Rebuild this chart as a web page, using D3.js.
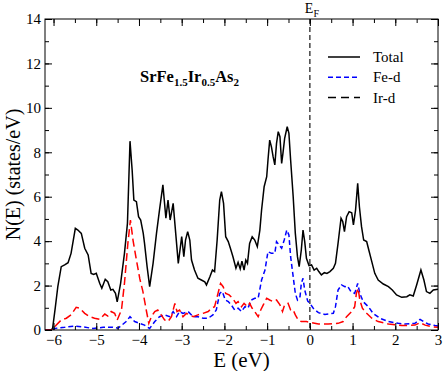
<!DOCTYPE html>
<html>
<head>
<meta charset="utf-8">
<script src="https://cdn.jsdelivr.net/npm/d3@7"></script>
<style>
body { margin: 0; background: #fff; }
text { font-family: "Liberation Serif", "Times New Roman", serif; }
</style>
</head>
<body>
<div id="chart"></div>
<script>
// total DOS
var totalE = [-6.2,-6.05,-6.02,-5.96,-5.90,-5.82,-5.74,-5.66,-5.59,-5.49,-5.43,-5.35,-5.27,-5.19,-5.12,-5.06,-5.0,-4.92,-4.87,-4.79,-4.73,-4.66,-4.61,-4.55,-4.51,-4.43,-4.34,-4.27,-4.21,-4.16,-4.12,-4.06,-4.01,-3.96,-3.90,-3.87,-3.81,-3.75,-3.67,-3.59,-3.52,-3.44,-3.37,-3.32,-3.27,-3.20,-3.14,-3.08,-3.00,-2.95,-2.91,-2.86,-2.81,-2.77,-2.70,-2.62,-2.54,-2.46,-2.42,-2.34,-2.28,-2.23,-2.17,-2.11,-2.07,-2.02,-1.97,-1.91,-1.86,-1.80,-1.73,-1.68,-1.63,-1.59,-1.54,-1.50,-1.46,-1.41,-1.35,-1.29,-1.23,-1.17,-1.13,-1.07,-1.01,-0.98,-0.94,-0.90,-0.86,-0.82,-0.78,-0.74,-0.70,-0.66,-0.63,-0.59,-0.53,-0.49,-0.45,-0.39,-0.34,-0.29,-0.25,-0.20,-0.16,-0.12,-0.08,-0.02,0.04,0.10,0.16,0.21,0.27,0.34,0.40,0.47,0.55,0.60,0.66,0.73,0.77,0.81,0.86,0.92,0.98,1.02,1.07,1.12,1.16,1.21,1.26,1.33,1.38,1.45,1.52,1.60,1.72,1.84,1.93,2.03,2.15,2.27,2.34,2.42,2.50,2.60,2.67,2.73,2.81,2.89,3.0];
var totalN = [0,0,0.1,1.0,1.95,2.85,2.93,3.03,3.45,4.58,4.5,4.35,3.68,3.38,2.55,2.5,2.55,2.1,1.88,2.28,2.17,1.8,1.83,1.65,1.27,2.1,3.45,4.8,8.5,7.2,5.85,5.78,5.1,4.95,4.35,3.9,2.85,1.95,3.0,4.35,5.4,6.53,5.03,5.85,4.95,5.7,4.35,3.0,4.2,3.3,4.05,4.43,4.05,3.15,2.7,2.33,2.25,2.17,2.03,2.4,2.7,2.63,4.05,5.85,6.23,5.7,4.2,3.98,3.68,3.3,2.78,3.05,2.75,3.1,2.7,3.15,3.0,3.9,4.2,4.05,3.75,4.5,5.4,6.45,6.9,7.65,8.55,8.25,7.8,7.43,8.4,8.93,8.7,7.5,7.95,8.63,9.15,8.85,7.65,6.0,4.35,3.3,2.85,3.6,4.5,3.98,3.23,2.9,2.93,2.7,2.78,2.63,2.48,2.58,2.55,2.63,2.78,3.0,3.9,5.03,4.88,4.43,5.1,5.33,5.28,4.73,5.4,6.6,5.55,4.65,4.05,3.98,3.6,3.08,2.55,2.25,2.07,1.95,1.8,1.58,1.47,1.5,1.58,1.53,2.03,2.7,2.25,1.73,1.65,1.8,1.83];

// Fe-d
var feE = [-6.2,-6.02,-5.98,-5.74,-5.51,-5.35,-5.08,-4.84,-4.61,-4.49,-4.30,-4.21,-4.10,-3.96,-3.87,-3.75,-3.63,-3.52,-3.40,-3.28,-3.20,-3.12,-3.05,-2.97,-2.85,-2.73,-2.62,-2.50,-2.38,-2.27,-2.19,-2.11,-2.05,-1.98,-1.91,-1.84,-1.76,-1.68,-1.60,-1.52,-1.45,-1.37,-1.29,-1.21,-1.13,-1.05,-0.98,-0.90,-0.82,-0.78,-0.72,-0.66,-0.60,-0.54,-0.49,-0.45,-0.39,-0.34,-0.29,-0.23,-0.20,-0.16,-0.12,-0.05,0.0,0.08,0.20,0.35,0.55,0.60,0.66,0.74,0.82,0.88,0.96,1.05,1.12,1.17,1.25,1.37,1.48,1.64,1.84,2.07,2.23,2.46,2.58,2.66,2.77,2.93,3.0];
var feN = [0,0,0.07,0.12,0.18,0.15,0.07,0.12,0.12,0.08,0.38,0.6,0.38,0.28,0.22,0.07,0.38,0.6,0.68,0.6,0.83,0.6,0.83,0.75,0.83,0.6,0.6,0.53,0.53,0.68,0.9,1.65,1.73,1.35,1.28,1.13,0.9,0.98,0.83,1.05,0.98,1.35,1.43,1.43,2.25,2.7,3.53,3.45,3.45,3.98,3.83,3.68,4.05,4.5,4.28,3.3,2.4,1.65,1.35,1.5,2.1,2.33,1.8,1.3,1.2,0.98,0.78,0.7,0.75,1.05,1.8,2.03,1.95,1.98,1.73,1.65,2.1,1.65,1.27,1.05,0.75,0.53,0.38,0.3,0.27,0.3,0.48,0.38,0.27,0.2,0.18];

// Ir-d
var irE = [-6.2,-6.02,-5.94,-5.82,-5.70,-5.59,-5.47,-5.39,-5.27,-5.16,-5.04,-4.92,-4.80,-4.73,-4.65,-4.57,-4.51,-4.41,-4.34,-4.26,-4.20,-4.14,-4.06,-3.98,-3.91,-3.83,-3.77,-3.71,-3.63,-3.56,-3.48,-3.40,-3.32,-3.24,-3.16,-3.11,-3.05,-2.97,-2.89,-2.81,-2.73,-2.62,-2.50,-2.38,-2.30,-2.23,-2.15,-2.09,-2.03,-1.97,-1.89,-1.81,-1.73,-1.68,-1.60,-1.54,-1.46,-1.41,-1.35,-1.29,-1.21,-1.15,-1.09,-1.01,-0.94,-0.86,-0.78,-0.70,-0.64,-0.59,-0.51,-0.45,-0.39,-0.34,-0.27,-0.20,-0.08,0.0,0.2,0.43,0.66,0.78,0.86,0.98,1.05,1.09,1.13,1.17,1.23,1.33,1.45,1.60,1.84,2.15,2.46,2.58,2.70,2.85,3.0];
var irN = [0,0,0.22,0.45,0.53,0.68,1.02,0.98,0.75,0.6,0.53,0.48,0.72,0.63,0.83,0.75,0.45,0.9,2.1,3.9,4.95,4.05,3.15,2.3,1.75,0.9,0.3,0.6,0.83,0.9,0.68,0.45,0.38,0.6,1.2,0.83,0.9,0.6,0.75,0.68,0.6,0.68,0.75,0.83,0.98,1.05,1.65,2.1,1.95,1.65,1.58,1.43,1.2,1.28,1.05,1.2,1.05,1.2,0.98,0.83,0.6,0.9,1.13,1.43,1.35,1.28,1.35,1.13,0.83,1.13,1.2,0.9,0.9,0.68,0.45,0.38,0.38,0.35,0.27,0.27,0.3,0.38,0.6,0.83,1.05,1.65,1.88,1.35,0.98,0.75,0.53,0.38,0.27,0.2,0.22,0.33,0.22,0.15,0.12];

var xTicks = [-6,-5,-4,-3,-2,-1,0,1,2,3];
var yTicks = [0,2,4,6,8,10,12,14];
var legendLabels = ["Total","Fe-d","Ir-d"];

var W = 443, H = 371;
var m = {left: 45, right: 5, top: 19, bottom: 41};
var pw = W - m.left - m.right, ph = H - m.top - m.bottom;

var svg = d3.select("#chart").append("svg").attr("width", W).attr("height", H);

var x = d3.scaleLinear().domain([-6.2, 3]).range([m.left, m.left + pw]);
var y = d3.scaleLinear().domain([0, 14]).range([m.top + ph, m.top]);

svg.append("clipPath").attr("id", "clip").append("rect")
    .attr("x", m.left).attr("y", m.top).attr("width", pw).attr("height", ph);

var line = d3.line().x(function(d){ return x(d[0]); }).y(function(d){ return y(d[1]); });
function pairs(a, b){ return a.map(function(v, i){ return [v, b[i]]; }); }

var g = svg.append("g").attr("clip-path", "url(#clip)");

// Fermi level
g.append("line")
    .attr("x1", x(0)).attr("x2", x(0)).attr("y1", m.top).attr("y2", m.top + ph)
    .attr("stroke", "#444").attr("stroke-width", 1.5).attr("stroke-dasharray", "5,3");

g.append("path").attr("d", line(pairs(totalE, totalN)))
    .attr("fill", "none").attr("stroke", "#000").attr("stroke-width", 1.5);
g.append("path").attr("d", line(pairs(feE, feN)))
    .attr("fill", "none").attr("stroke", "#0000ff").attr("stroke-width", 1.5).attr("stroke-dasharray", "5,3");
g.append("path").attr("d", line(pairs(irE, irN)))
    .attr("fill", "none").attr("stroke", "#ff0000").attr("stroke-width", 1.5).attr("stroke-dasharray", "8,4");

// axes: ticks inside, on all four sides
var minorX = d3.range(-6, 3.01, 0.5), minorY = d3.range(0, 14.01, 1);
svg.append("g").attr("transform", "translate(0," + (m.top + ph) + ")")
    .call(d3.axisBottom(x).tickValues(minorX).tickSize(-4).tickFormat(""));
svg.append("g").attr("transform", "translate(0," + (m.top + ph) + ")")
    .call(d3.axisBottom(x).tickValues(xTicks).tickSize(-7).tickPadding(4).tickFormat(d3.format("d")));
svg.append("g").attr("transform", "translate(0," + m.top + ")")
    .call(d3.axisTop(x).tickValues(minorX).tickSize(-4).tickFormat(""));
svg.append("g").attr("transform", "translate(0," + m.top + ")")
    .call(d3.axisTop(x).tickValues(xTicks).tickSize(-7).tickFormat(""));
svg.append("g").attr("transform", "translate(" + m.left + ",0)")
    .call(d3.axisLeft(y).tickValues(minorY).tickSize(-4).tickFormat(""));
svg.append("g").attr("transform", "translate(" + m.left + ",0)")
    .call(d3.axisLeft(y).tickValues(yTicks).tickSize(-7).tickPadding(4).tickFormat(d3.format("d")));
svg.append("g").attr("transform", "translate(" + (m.left + pw) + ",0)")
    .call(d3.axisRight(y).tickValues(minorY).tickSize(-4).tickFormat(""));
svg.append("g").attr("transform", "translate(" + (m.left + pw) + ",0)")
    .call(d3.axisRight(y).tickValues(yTicks).tickSize(-7).tickFormat(""));

svg.selectAll(".domain").remove();
svg.selectAll(".tick line").attr("stroke", "#000");
svg.selectAll(".tick text").attr("font-family", "Liberation Serif").attr("font-size", 15).attr("fill", "#000");

svg.append("rect").attr("x", m.left).attr("y", m.top).attr("width", pw).attr("height", ph)
    .attr("fill", "none").attr("stroke", "#000").attr("stroke-width", 1);

// axis titles
svg.append("text").attr("x", x(-1.6)).attr("y", 367).attr("text-anchor", "middle")
    .attr("font-size", 21).text("E (eV)");
svg.append("text").attr("transform", "translate(20," + (m.top + ph / 2) + ") rotate(-90)")
    .attr("text-anchor", "middle").attr("font-size", 20).text("N(E) (states/eV)");

// E_F label
var ef = svg.append("text").attr("x", x(0) - 5).attr("y", 13).attr("font-size", 14);
ef.append("tspan").text("E");
ef.append("tspan").attr("dy", 4).attr("font-size", 10).text("F");

// compound label
var t = svg.append("text").attr("x", 140).attr("y", 82).attr("font-size", 16.5).attr("font-weight", "bold");
t.append("tspan").text("SrFe");
t.append("tspan").attr("dy", 4).attr("font-size", 11).text("1.5");
t.append("tspan").attr("dy", -4).text("Ir");
t.append("tspan").attr("dy", 4).attr("font-size", 11).text("0.5");
t.append("tspan").attr("dy", -4).text("As");
t.append("tspan").attr("dy", 4).attr("font-size", 11).text("2");

// legend
var legStyle = [
    {stroke: "#000", dash: null},
    {stroke: "#0000ff", dash: "5,3"},
    {stroke: "#000", dash: "8,5"}
];
legendLabels.forEach(function(lab, i){
    var yy = 57 + i * 20.3;
    svg.append("line").attr("x1", 328).attr("x2", 360).attr("y1", yy).attr("y2", yy)
        .attr("stroke", legStyle[i].stroke).attr("stroke-width", 1.5)
        .attr("stroke-dasharray", legStyle[i].dash);
    svg.append("text").attr("x", 373).attr("y", yy + 5).attr("font-size", 15).text(lab);
});
</script>
</body>
</html>
